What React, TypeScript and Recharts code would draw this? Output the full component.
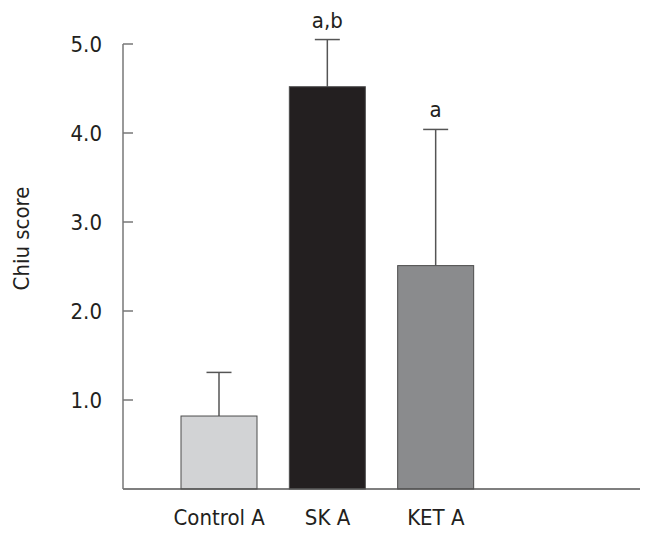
import { BarChart, Bar, XAxis, YAxis, Cell } from 'recharts';

const groups = ['Control A', 'SK A', 'KET A'];
const chiuMean = [0.82, 4.52, 2.51];
const chiuErr = [0.49, 0.53, 1.53];
const sigMarks = ['', 'a,b', 'a'];
const barColors = ['#d2d3d5', '#231f20', '#8a8b8d'];
const yTicks = [1, 2, 3, 4, 5];

const data = groups.map((g, i) => ({
  group: g,
  mean: chiuMean[i],
  err: chiuErr[i],
  mark: sigMarks[i],
}));

const FONT = "'DejaVu Sans Condensed', 'DejaVu Sans', sans-serif";
const TEXT = '#231f20';

// bar with one-sided (upper) error whisker and significance letter on top
function BarWithError(props: any) {
  const { x, y, width, height, fill, payload } = props;
  const perUnit = height / payload.mean;
  const errTop = y - payload.err * perUnit;
  const cx = x + width / 2;
  return (
    <g>
      <line x1={cx} y1={y} x2={cx} y2={errTop} stroke="#555" strokeWidth={1.5} />
      <line x1={cx - 12.5} y1={errTop} x2={cx + 12.5} y2={errTop} stroke="#555" strokeWidth={1.5} />
      <rect x={x} y={y} width={width} height={height} fill={fill} stroke="#4d4d4d" strokeWidth={1} />
      {payload.mark && (
        <text x={cx} y={errTop - 12} textAnchor="middle" fontSize={22} fontFamily={FONT} fill={TEXT}>
          {payload.mark}
        </text>
      )}
    </g>
  );
}

export default function App() {
  return (
    <BarChart
      width={641}
      height={527}
      data={data}
      margin={{ top: 36, right: 9, bottom: 0, left: 0 }}
    >
      <XAxis
        dataKey="group"
        height={46}
        padding={{ left: 42, right: 150 }}
        axisLine={{ stroke: '#555', strokeWidth: 1.5 }}
        tickLine={false}
        tickSize={0}
        tickMargin={20}
        tick={{ fill: TEXT, fontSize: 22, fontFamily: FONT }}
      />
      <YAxis
        width={115}
        domain={[0, 5]}
        ticks={yTicks}
        tickFormatter={(v: number) => v.toFixed(1)}
        axisLine={{ stroke: '#777', strokeWidth: 1.5 }}
        tickLine={{ stroke: '#777', strokeWidth: 1.5 }}
        tickSize={-10}
        tickMargin={31}
        tick={{ fill: TEXT, fontSize: 22, fontFamily: FONT }}
        label={{
          value: 'Chiu score',
          angle: -90,
          position: 'center',
          dx: -44,
          dy: -28,
          fill: TEXT,
          fontSize: 22,
          fontFamily: FONT,
        }}
      />
      <Bar dataKey="mean" barSize={76} shape={<BarWithError />} isAnimationActive={false}>
        {data.map((d, i) => (
          <Cell key={d.group} fill={barColors[i]} />
        ))}
      </Bar>
    </BarChart>
  );
}
